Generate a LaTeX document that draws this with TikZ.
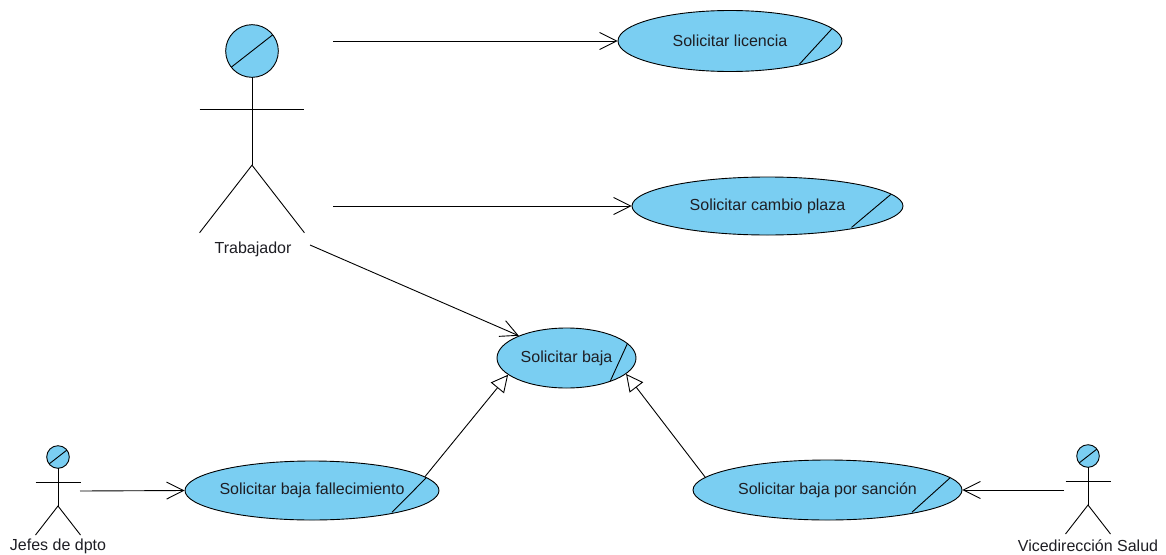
\documentclass[tikz,border=0pt]{standalone}
\usepackage{fontspec}
\setmainfont{Liberation Sans}
\usetikzlibrary{shapes.geometric,arrows.meta,calc}
\definecolor{ucblue}{RGB}{122,206,242}
\definecolor{inkcol}{RGB}{30,30,36}
\begin{document}
\begin{tikzpicture}[x=1pt,y=1pt,
  line width=0.9pt, draw=black,
  every label/.style={text=inkcol, font=\fontsize{16}{18}\selectfont, inner sep=0pt},
  ucase/.style n args={4}{ellipse, draw=black, fill=ucblue, inner sep=0pt,
    path picture={\draw[line width=0.9pt]
      let \p1=(path picture bounding box.south west),
          \p2=(path picture bounding box.north east) in
      ({\x1+#1*(\x2-\x1)},{\y1+#2*(\y2-\y1)}) --
      ({\x1+#3*(\x2-\x1)},{\y1+#4*(\y2-\y1)});}},
  actorname/.style={text=inkcol, font=\fontsize{16}{18}\selectfont, inner sep=0pt},
  assoc/.style={-{Straight Barb[length=17pt,width=17pt]}},
  gen/.style={-{Triangle[open,length=17pt,width=17pt,fill=white]}},
  actor/.pic={
    \draw[fill=ucblue] (0,0) circle (11.3);
    \draw (38:11.3) -- (218:11.3);
    \draw (0,-11.3) -- (0,-49);
    \draw (-22.5,-25) -- (22.5,-25);
    \draw (-22.5,-78) -- (0,-49) -- (22.5,-78);
  }]
\useasboundingbox[fill=white] (0,0) rectangle (1166,-554);

% actors
\pic[scale=2.33] at (252,-51) {actor};
\node[actorname] (trabajador) at (253,-249) {Trabajador};
\pic at (58,-457) {actor};
\node[actorname] (jefes) at (58,-546) {Jefes de dpto};
\pic at (1088,-456) {actor};
\node[actorname] (vice) at (1088,-546) {Vicedirección Salud};

% attachment points of the actors
\coordinate (trabA) at (333,-41);
\coordinate (trabB) at (333,-206);
\coordinate (trabC) at (310,-245);
\coordinate (jefesR) at (80,-491);
\coordinate (viceL) at (1064,-490);

% use cases
\node[ucase={0.955}{0.7}{0.81}{0.12}, minimum width=224, minimum height=61,
  label={center:Solicitar licencia}] (licencia) at (730,-41) {};
\node[ucase={0.955}{0.7}{0.81}{0.13}, minimum width=271, minimum height=58,
  label={center:Solicitar cambio plaza}] (cambio) at (767.5,-206) {};
\node[ucase={0.94}{0.75}{0.8}{0.04}, minimum width=139, minimum height=60,
  label={center:Solicitar baja}] (baja) at (566.5,-358) {};
\node[ucase={0.953}{0.73}{0.815}{0.13}, minimum width=254, minimum height=59,
  label={center:Solicitar baja fallecimiento}] (fall) at (312,-490.5) {};
\node[ucase={0.955}{0.7}{0.814}{0.13}, minimum width=269, minimum height=60,
  label={center:Solicitar baja por sanción}] (sancion) at (827.5,-490) {};

% associations
\draw[assoc] (trabA) -- (licencia.west);
\draw[assoc] (trabB) -- (cambio.west);
\draw[assoc] (trabC) -- (baja.155);
\draw[assoc] (jefesR) -- (fall.west);
\draw[assoc] (viceL) -- (sancion.east);

% generalizations
\draw[gen] (fall.7) -- (baja.196);
\draw[gen] (sancion.174) -- (baja.345);
\end{tikzpicture}
\end{document}
